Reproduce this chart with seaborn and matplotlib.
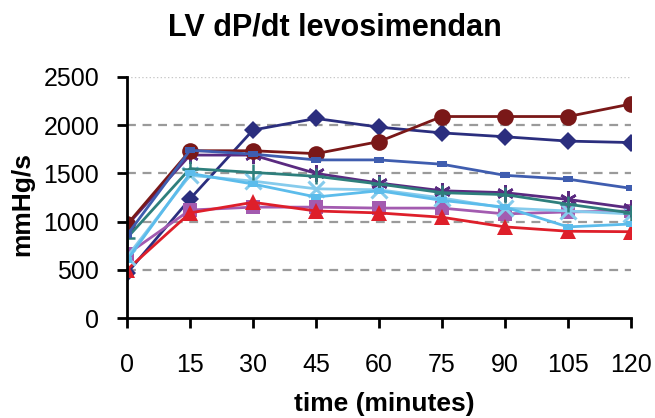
import matplotlib
matplotlib.use("Agg")
import matplotlib.pyplot as plt
import seaborn as sns
import pandas as pd

time_min = [0, 15, 30, 45, 60, 75, 90, 105, 120]

navy_diamond = [465, 1235, 1950, 2070, 1980, 1920, 1880, 1835, 1820]
pink_square = [660, 1120, 1150, 1150, 1140, 1140, 1080, 1100, 1110]
red_triangle = [500, 1090, 1200, 1110, 1090, 1045, 945, 900, 895]
lightblue_x = [635, 1480, 1420, 1340, 1330, 1245, 1140, 1110, 1080]
purple_star = [960, 1690, 1690, 1500, 1400, 1320, 1300, 1230, 1140]
darkred_circle = [970, 1735, 1735, 1705, 1830, 2090, 2090, 2090, 2220]
teal_plus = [830, 1550, 1510, 1470, 1390, 1300, 1280, 1180, 1090]
blue_dash = [860, 1740, 1700, 1640, 1640, 1595, 1480, 1440, 1345]
skyblue_dash = [600, 1500, 1390, 1255, 1320, 1220, 1150, 945, 975]

y_ticks = [0, 500, 1000, 1500, 2000, 2500]
x_ticks = time_min

dash_marker = [(-1, -0.55), (1, -0.55), (1, 0.55), (-1, 0.55), (-1, -0.55)]
asterisk = (6, 2, 0)

series = [
    ("navy_diamond", navy_diamond, "#2B2E7E", "D", 9.5, 0),
    ("pink_square", pink_square, "#A35BB0", "s", 10.5, 0),
    ("red_triangle", red_triangle, "#DE1F2A", "^", 11, 0),
    ("lightblue_x", lightblue_x, "#86CBEC", "x", 11, 2.2),
    ("purple_star", purple_star, "#5A2A80", asterisk, 12, 1.8),
    ("darkred_circle", darkred_circle, "#7A1818", "o", 12, 0),
    ("teal_plus", teal_plus, "#2E7F7C", "+", 11, 1.8),
    ("blue_dash", blue_dash, "#3F5DAF", dash_marker, 7, 0),
    ("skyblue_dash", skyblue_dash, "#5CBCEB", dash_marker, 7, 0),
]

sns.set_theme(style="white")
plt.rcParams["font.family"] = ["Liberation Sans", "DejaVu Sans"]
plt.rcParams["text.color"] = "black"
plt.rcParams["axes.labelcolor"] = "black"

W, H = 655, 418
fig = plt.figure(figsize=(W / 100, H / 100), dpi=100)
ax = fig.add_axes([127 / W, 1 - 318 / H, (631 - 127) / W, (318 - 77) / H])

for name, vals, color, marker, ms, mew in series:
    df = pd.DataFrame({"time": time_min, "value": vals})
    sns.lineplot(data=df, x="time", y="value", ax=ax, color=color, marker=marker,
                 markersize=ms, linewidth=2.0, markeredgecolor=color,
                 markerfacecolor=color, markeredgewidth=mew)

ax.set_xlim(0, 120)
ax.set_ylim(0, 2500)
ax.set_xticks(x_ticks)
ax.set_yticks(y_ticks)
ax.set_xticklabels([str(t) for t in x_ticks], fontsize=18, color="black")
ax.set_yticklabels([str(t) for t in y_ticks], fontsize=18, color="black")

ax.yaxis.grid(True, color="#9A9A9A", linestyle=(0, (4, 3)), linewidth=1.6)
gl = ax.get_ygridlines()
gl[-1].set_linestyle(":")
gl[-1].set_color("#C8C8C8")
gl[-1].set_linewidth(1.0)
gl[0].set_visible(False)
ax.set_axisbelow(True)

for side in ["top", "right"]:
    ax.spines[side].set_visible(False)
for side in ["left", "bottom"]:
    ax.spines[side].set_color("black")
    ax.spines[side].set_linewidth(2)

ax.tick_params(axis="both", which="major", direction="out", length=7, width=2,
               color="black", labelcolor="black", left=True, bottom=True)
ax.tick_params(axis="y", pad=13)
ax.tick_params(axis="x", pad=18)

ax.set_xlabel("time (minutes)", fontsize=19, fontweight="bold", color="black")
ax.xaxis.set_label_coords(384 / W, 1 - 404 / H, transform=fig.transFigure)
ax.xaxis.label.set_va("center")
ax.set_ylabel("mmHg/s", fontsize=19, fontweight="bold", color="black")
ax.yaxis.set_label_coords(22 / W, 1 - 204 / H, transform=fig.transFigure)
ax.yaxis.label.set_va("center")

fig.text(335 / W, 1 - 27 / H, "LV dP/dt levosimendan", fontsize=22,
         fontweight="bold", ha="center", va="center", color="black")

fig.savefig("out.png", dpi=100, facecolor="white")
